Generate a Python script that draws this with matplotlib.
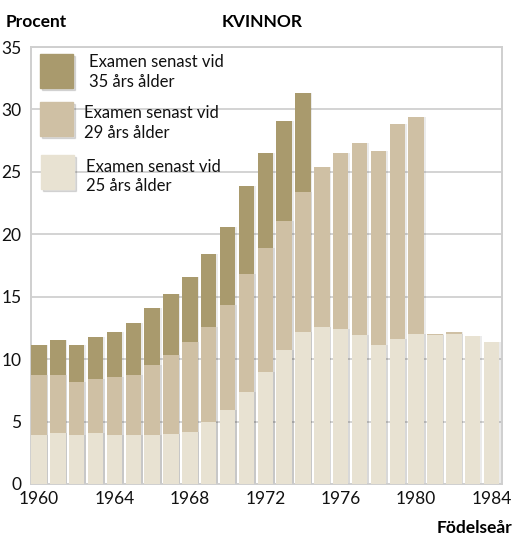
import numpy as np
import matplotlib.pyplot as plt
from matplotlib.patches import Rectangle

plt.rcParams['font.family'] = ['Lato', 'DejaVu Sans']

years = np.arange(1960, 1985)
# cumulative share (%) with degree by given age
by35 = [11.1, 11.5, 11.1, 11.8, 12.2, 12.9, 14.1, 15.2, 16.6, 18.4, 20.6, 23.9, 26.5, 29.1, 31.3,
        np.nan, np.nan, np.nan, np.nan, np.nan, np.nan, np.nan, np.nan, np.nan, np.nan]
by29 = [8.7, 8.7, 8.2, 8.4, 8.6, 8.7, 9.5, 10.3, 11.4, 12.6, 14.3, 16.8, 18.9, 21.1, 23.4,
        25.4, 26.5, 27.3, 26.7, 28.8, 29.4, 12.05, 12.15, np.nan, np.nan]
by25 = [3.9, 4.1, 3.9, 4.1, 3.9, 3.9, 3.9, 4.0, 4.2, 5.0, 5.9, 7.4, 9.0, 10.7, 12.2,
        12.6, 12.4, 11.9, 11.1, 11.6, 12.0, 11.95, 12.05, 11.85, 11.4]

labels = ["Examen senast vid\n35 års ålder",
          "Examen senast vid\n29 års ålder",
          "Examen senast vid\n25 års ålder"]
colors = ["#A99A6D", "#CFC0A4", "#E8E2D2"]

W, H = 515, 536
fig = plt.figure(figsize=(W/100, H/100), dpi=100)
ax = fig.add_axes([31/W, 1-484/H, 471/W, 437/H])

w = 0.82
# soft shadow behind bars
for vals in [by35, by29, by25]:
    ax.bar(years + 0.09, vals, width=w, color="#000000", alpha=0.08, zorder=2)
for vals, c in zip([by35, by29, by25], colors):
    ax.bar(years, vals, width=w, color=c, zorder=3)

ax.set_xlim(1959.58, 1984.55)
ax.set_ylim(0, 35)
ax.set_yticks(range(0, 36, 5))
ax.set_xticks(range(1960, 1985, 4))
ax.yaxis.grid(True, color="#d0d0d0", linewidth=1.3, zorder=0)
ax.set_axisbelow(True)
for s in ax.spines.values():
    s.set_color("#cfcfcf")
    s.set_linewidth(1.4)
ax.tick_params(length=0, labelsize=12.5, colors="#111111")
ax.tick_params(axis='y', pad=7)
ax.tick_params(axis='x', pad=5)

# legend drawn by hand (pixel positions from top-left)
leg_boxes = [(40, 54), (40, 102), (41, 155)]
leg_text = [(89, 72), (84, 123), (86, 176.5)]
for (bx, by), (tx, ty), lab, c in zip(leg_boxes, leg_text, labels, colors):
    fig.patches.append(Rectangle(((bx + 2)/W, 1-(by + 36)/H), 33/W, 34/H,
                                 transform=fig.transFigure, color="#000000", alpha=0.12, zorder=4))
    fig.patches.append(Rectangle((bx/W, 1-(by + 34)/H), 33/W, 34/H,
                                 transform=fig.transFigure, color=c, zorder=5))
    fig.text(tx/W, 1-ty/H, lab, fontsize=12, va='center', ha='left', linespacing=1.25,
             color="#111111", zorder=6)

fig.text(6/W, 1-22/H, "Procent", fontsize=12.5, fontweight='bold', va='center', ha='left')
fig.text(262/W, 1-22/H, "KVINNOR", fontsize=12.5, fontweight='bold', va='center', ha='center')
fig.text(512/W, 1-528/H, "Födelseår", fontsize=12.5, fontweight='bold', va='center', ha='right')

fig.savefig("out.png", dpi=100)
